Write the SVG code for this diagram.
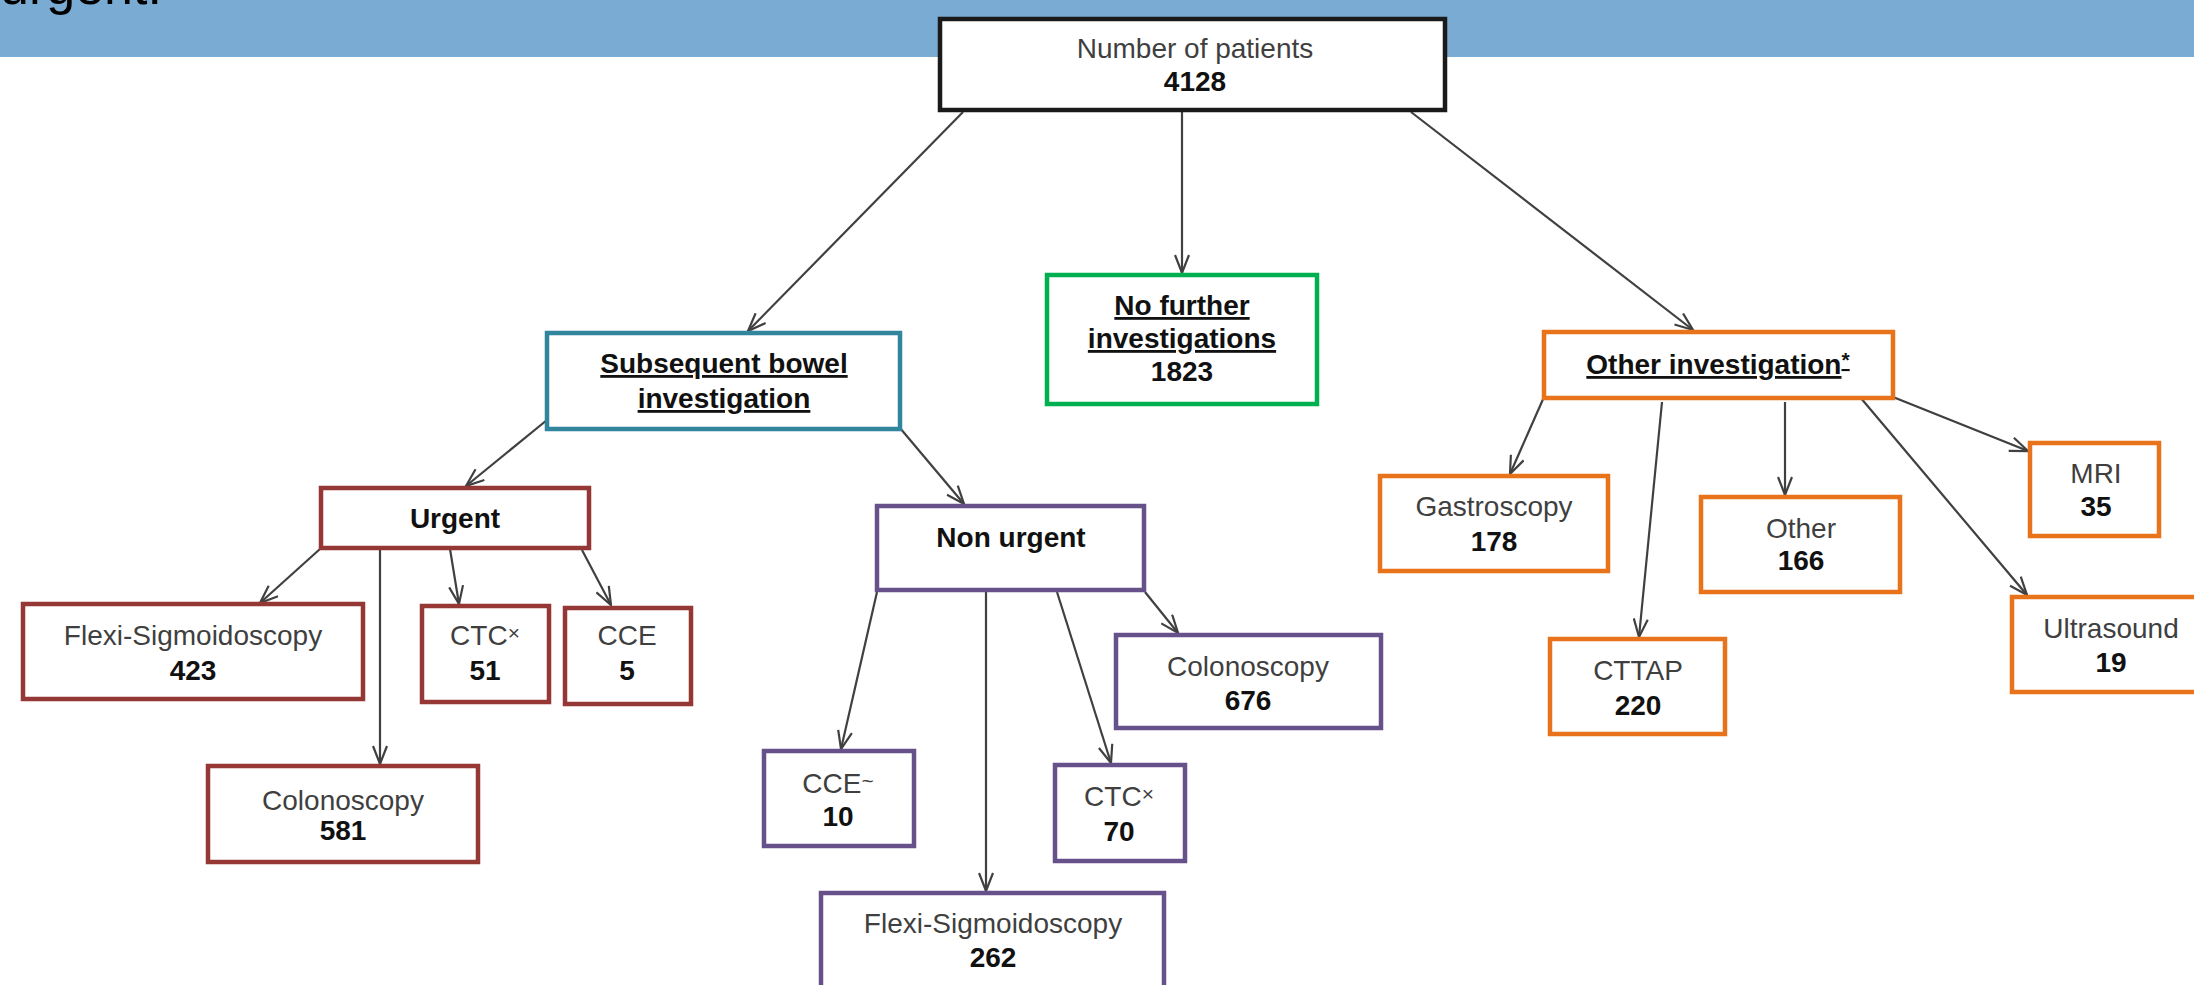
<svg xmlns="http://www.w3.org/2000/svg" width="2194" height="985" viewBox="0 0 2194 985">
<style>
text{font-family:"Liberation Sans",Arial,sans-serif;font-size:28px;text-anchor:middle}
.lb{fill:#3f3f3f}
.nb{fill:#111;font-weight:bold}
.hd{fill:#111;font-weight:bold}
.u{text-decoration:underline}
.sup{font-size:21px}
rect{fill:#fff;stroke-width:4.5}
.blk{stroke:#1a1a1a}
.teal{stroke:#31859C}
.grn{stroke:#00B050}
.org{stroke:#E8731A}
.red{stroke:#953735}
.pur{stroke:#67518A}
#connectors line{stroke:#404040;stroke-width:2.2;marker-end:url(#arr)}
</style>
<defs>
<marker id="arr" viewBox="0 0 20 16" refX="19" refY="8" markerWidth="20" markerHeight="16" markerUnits="userSpaceOnUse" orient="auto">
<path d="M1,1 L19,8 L1,15" fill="none" stroke="#404040" stroke-width="2.2"/>
</marker>
</defs>
<rect x="0" y="0" width="2194" height="57" style="fill:#79ABD3;stroke:none"/>
<text x="0" y="4" style="text-anchor:start;font-size:52px;fill:#000">urgent.</text>

<g id="connectors">
<line x1="963" y1="112" x2="748" y2="331"/>
<line x1="1182" y1="112" x2="1182" y2="273"/>
<line x1="1411" y1="112" x2="1693" y2="330"/>
<line x1="547" y1="420" x2="466" y2="486"/>
<line x1="900" y1="428" x2="964" y2="504"/>
<line x1="320" y1="549" x2="260" y2="603"/>
<line x1="380" y1="549" x2="380" y2="764"/>
<line x1="450" y1="549" x2="459" y2="604"/>
<line x1="582" y1="550" x2="611" y2="605"/>
<line x1="877" y1="592" x2="841" y2="749"/>
<line x1="986" y1="592" x2="986" y2="891"/>
<line x1="1057" y1="592" x2="1111" y2="763"/>
<line x1="1145" y1="592" x2="1178" y2="633"/>
<line x1="1544" y1="397" x2="1510" y2="474"/>
<line x1="1662" y1="402" x2="1639" y2="637"/>
<line x1="1785" y1="402" x2="1785" y2="495"/>
<line x1="1860" y1="397" x2="2027" y2="595"/>
<line x1="1893" y1="397" x2="2028" y2="451"/>
</g>

<g id="n-patients">
<rect class="blk" x="940" y="19" width="505" height="91"/>
<text class="lb" x="1195" y="58">Number of patients</text>
<text class="nb" x="1195" y="91">4128</text>
</g>

<g id="n-subsequent">
<rect class="teal" x="547" y="333" width="353" height="96"/>
<text class="hd u" x="724" y="373">Subsequent bowel</text>
<text class="hd u" x="724" y="408">investigation</text>
</g>

<g id="n-nofurther">
<rect class="grn" x="1047" y="275" width="270" height="129"/>
<text class="hd u" x="1182" y="315">No further</text>
<text class="hd u" x="1182" y="348">investigations</text>
<text class="nb" x="1182" y="381">1823</text>
</g>

<g id="n-other-inv">
<rect class="org" x="1544" y="332" width="349" height="66"/>
<text class="hd u" x="1718" y="374">Other investigation<tspan class="sup" dy="-7">*</tspan></text>
</g>

<g id="n-urgent">
<rect class="red" x="321" y="488" width="268" height="60"/>
<text class="hd" x="455" y="528">Urgent</text>
</g>

<g id="n-flexi423">
<rect class="red" x="23" y="604" width="340" height="95"/>
<text class="lb" x="193" y="645">Flexi-Sigmoidoscopy</text>
<text class="nb" x="193" y="680">423</text>
</g>

<g id="n-ctc51">
<rect class="red" x="422" y="606" width="127" height="96"/>
<text class="lb" x="485" y="645">CTC<tspan class="sup" dy="-5">×</tspan></text>
<text class="nb" x="485" y="680">51</text>
</g>

<g id="n-cce5">
<rect class="red" x="565" y="608" width="126" height="96"/>
<text class="lb" x="627" y="645">CCE</text>
<text class="nb" x="627" y="680">5</text>
</g>

<g id="n-colon581">
<rect class="red" x="208" y="766" width="270" height="96"/>
<text class="lb" x="343" y="810">Colonoscopy</text>
<text class="nb" x="343" y="840">581</text>
</g>

<g id="n-nonurgent">
<rect class="pur" x="877" y="506" width="267" height="84"/>
<text class="hd" x="1011" y="547">Non urgent</text>
</g>

<g id="n-colon676">
<rect class="pur" x="1116" y="635" width="265" height="93"/>
<text class="lb" x="1248" y="676">Colonoscopy</text>
<text class="nb" x="1248" y="710">676</text>
</g>

<g id="n-cce10">
<rect class="pur" x="764" y="751" width="150" height="95"/>
<text class="lb" x="838" y="793">CCE<tspan class="sup" dy="-5">~</tspan></text>
<text class="nb" x="838" y="826">10</text>
</g>

<g id="n-ctc70">
<rect class="pur" x="1055" y="765" width="130" height="96"/>
<text class="lb" x="1119" y="806">CTC<tspan class="sup" dy="-5">×</tspan></text>
<text class="nb" x="1119" y="841">70</text>
</g>

<g id="n-flexi262">
<rect class="pur" x="821" y="893" width="343" height="110"/>
<text class="lb" x="993" y="933">Flexi-Sigmoidoscopy</text>
<text class="nb" x="993" y="967">262</text>
</g>

<g id="n-gastro">
<rect class="org" x="1380" y="476" width="228" height="95"/>
<text class="lb" x="1494" y="516">Gastroscopy</text>
<text class="nb" x="1494" y="551">178</text>
</g>

<g id="n-cttap">
<rect class="org" x="1550" y="639" width="175" height="95"/>
<text class="lb" x="1638" y="680">CTTAP</text>
<text class="nb" x="1638" y="715">220</text>
</g>

<g id="n-other166">
<rect class="org" x="1701" y="497" width="199" height="95"/>
<text class="lb" x="1801" y="538">Other</text>
<text class="nb" x="1801" y="570">166</text>
</g>

<g id="n-mri">
<rect class="org" x="2030" y="443" width="129" height="93"/>
<text class="lb" x="2096" y="483">MRI</text>
<text class="nb" x="2096" y="516">35</text>
</g>

<g id="n-ultrasound">
<rect class="org" x="2012" y="597" width="200" height="95"/>
<text class="lb" x="2111" y="638">Ultrasound</text>
<text class="nb" x="2111" y="672">19</text>
</g>
</svg>
